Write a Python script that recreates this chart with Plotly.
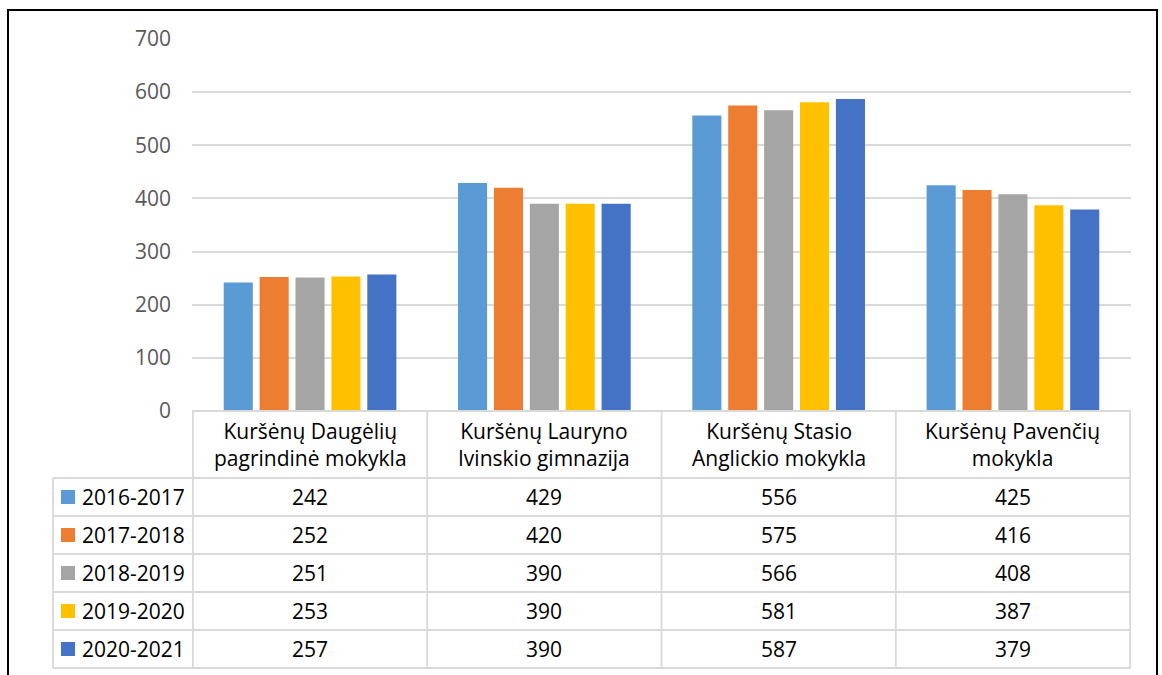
import plotly.graph_objects as go

schools = ["Kuršėnų Daugėlių pagrindinė mokykla", "Kuršėnų Lauryno Ivinskio gimnazija",
           "Kuršėnų Stasio Anglickio mokykla", "Kuršėnų Pavenčių mokykla"]
years = ["2016-2017", "2017-2018", "2018-2019", "2019-2020", "2020-2021"]
v2016 = [242, 429, 556, 425]
v2017 = [252, 420, 575, 416]
v2018 = [251, 390, 566, 408]
v2019 = [253, 390, 581, 387]
v2020 = [257, 390, 587, 379]
series = [v2016, v2017, v2018, v2019, v2020]
colors = ["#5B9BD5", "#ED7D31", "#A5A5A5", "#FFC000", "#4472C4"]

W, H = 1162, 675
FONT = "Open Sans"
FS = 21


def px(x):
    return x / W


def py(y):
    return 1 - y / H


fig = go.Figure()
for name, vals, col in zip(years, series, colors):
    fig.add_trace(go.Bar(x=schools, y=vals, name=name, marker_color=col,
                         marker_line_width=0, showlegend=False))

plot_left, plot_right, plot_top, plot_bottom = 192, 1131, 39, 411
header_bottom = 478
row_h = 38
table_left = 53
grid = "#D9D9D9"
LW = 1.8

shapes = []
# outer black border (left, top, right)
shapes.append(dict(type="path", xref="paper", yref="paper",
                   path=f"M {px(8)},{py(700)} L {px(8)},{py(10)} L {px(1157)},{py(10)} L {px(1157)},{py(700)}",
                   line=dict(color="#000000", width=2)))
n_rows = len(years)
table_bottom = header_bottom + n_rows * row_h
# header top line
shapes.append(dict(type="line", xref="paper", yref="paper", x0=px(plot_left), x1=px(plot_right),
                   y0=py(plot_bottom), y1=py(plot_bottom), line=dict(color=grid, width=LW)))
# horizontal row lines
for i in range(n_rows + 1):
    yy = header_bottom + i * row_h
    shapes.append(dict(type="line", xref="paper", yref="paper", x0=px(table_left), x1=px(plot_right),
                       y0=py(yy), y1=py(yy), line=dict(color=grid, width=LW)))
# vertical lines at category boundaries
for k in range(len(schools) + 1):
    shapes.append(dict(type="line", xref="x", yref="paper", x0=k - 0.5, x1=k - 0.5,
                       y0=py(plot_bottom), y1=py(table_bottom), line=dict(color=grid, width=LW)))
# left edge of label column
shapes.append(dict(type="line", xref="paper", yref="paper", x0=px(table_left), x1=px(table_left),
                   y0=py(header_bottom), y1=py(table_bottom), line=dict(color=grid, width=LW)))

annotations = []


def wrap(name):
    w = name.split(" ")
    return " ".join(w[:2]) + "<br>" + " ".join(w[2:])


for s in schools:
    annotations.append(dict(x=s, xref="x", y=py((plot_bottom + header_bottom) / 2), yref="paper",
                            text=wrap(s), showarrow=False, xanchor="center", yanchor="middle",
                            font=dict(family=FONT, size=FS, color="#000000")))

for i, (name, vals, col) in enumerate(zip(years, series, colors)):
    yc = header_bottom + i * row_h + row_h / 2
    shapes.append(dict(type="rect", xref="paper", yref="paper", x0=px(61), x1=px(75),
                       y0=py(yc + 7), y1=py(yc - 7), fillcolor=col, line=dict(width=0)))
    annotations.append(dict(x=px(80), xref="paper", y=py(yc), yref="paper", text=name,
                            showarrow=False, xanchor="left", yanchor="middle",
                            font=dict(family=FONT, size=FS, color="#000000")))
    for s, v in zip(schools, vals):
        annotations.append(dict(x=s, xref="x", y=py(yc), yref="paper", text=str(v),
                                showarrow=False, xanchor="center", yanchor="middle",
                                font=dict(family=FONT, size=FS, color="#000000")))

fig.update_layout(
    width=W, height=H,
    margin=dict(l=0, r=0, t=0, b=0, pad=0),
    paper_bgcolor="white", plot_bgcolor="white",
    barmode="group", bargap=0.234, bargroupgap=0.19,
    xaxis=dict(domain=[px(plot_left), px(plot_right)], showticklabels=False, showgrid=False,
               zeroline=False, showline=False, ticks="", automargin=False),
    yaxis=dict(domain=[py(plot_bottom), py(plot_top)], range=[0, 700], dtick=100,
               showgrid=True, gridcolor=grid, gridwidth=LW, zeroline=False, showline=False,
               automargin=False,
               tickfont=dict(family=FONT, size=FS, color="#595959"), ticklabelstandoff=20),
    shapes=shapes, annotations=annotations,
)

fig.write_html("out.html", config={"displayModeBar": False},
               post_script="document.body.style.margin='0px';document.body.style.overflow='hidden';")
